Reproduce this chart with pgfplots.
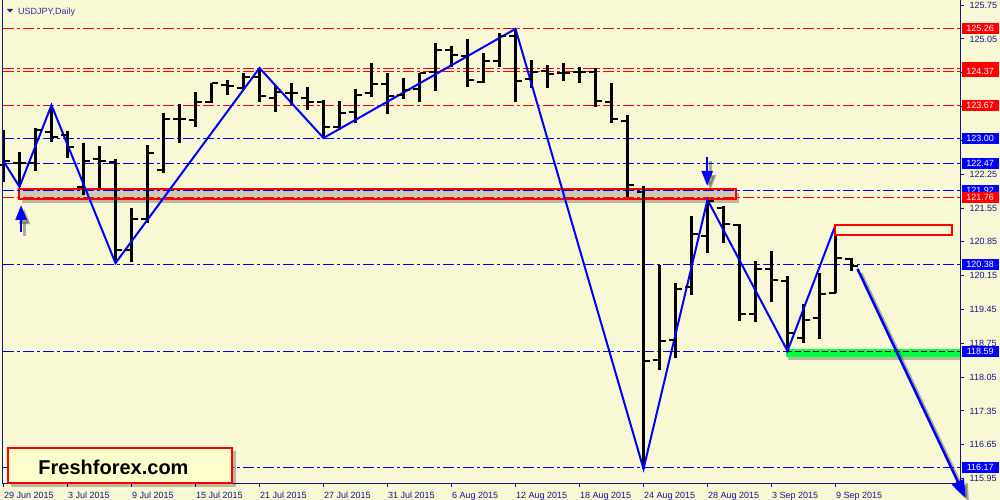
\documentclass[border=0pt]{standalone}
\usepackage{fontspec}
\setmainfont{Liberation Sans}
\usepackage{pgfplots}
\pgfplotsset{compat=1.18}
\usepackage{pgfplotstable}
\usetikzlibrary{arrows.meta}

\definecolor{bgc}{RGB}{248,248,212}
\definecolor{navy}{RGB}{20,20,140}
\definecolor{ttl}{RGB}{50,50,150}
\definecolor{lblue}{RGB}{0,0,255}
\definecolor{lred}{RGB}{255,0,0}
\definecolor{hl}{RGB}{204,204,178}
\definecolor{logo}{RGB}{255,255,204}
\definecolor{grn}{RGB}{0,255,64}

\pgfdeclareplotmark{otick}{\pgfpathmoveto{\pgfqpoint{-6.5bp}{0pt}}\pgfpathlineto{\pgfqpoint{0pt}{0pt}}\pgfusepathqstroke}
\pgfdeclareplotmark{ctick}{\pgfpathmoveto{\pgfqpoint{0pt}{0pt}}\pgfpathlineto{\pgfqpoint{6.5bp}{0pt}}\pgfusepathqstroke}

\tikzset{lvl/.style={line width=1bp, dash pattern=on 11bp off 3bp on 3bp off 3bp},
  plbl/.style={anchor=west, xshift=1.5bp, inner sep=0pt, minimum width=37bp, minimum height=11bp, text=white, font=\fontsize{9bp}{10bp}\selectfont}}

\pgfplotstableread{
i O H L C
0 122.44 123.17 122.09 122.52
1 122.48 122.71 121.99 122.48
2 122.48 123.21 122.32 123.17
3 123.12 123.68 122.92 123.02
4 123.06 123.15 122.59 122.81
5 121.99 122.90 121.82 122.52
6 122.57 122.83 121.97 122.52
7 122.50 122.57 120.41 120.68
8 120.68 121.55 120.43 121.32
9 121.32 122.86 121.24 122.69
10 122.34 123.52 122.28 123.39
11 123.39 123.70 122.90 123.39
12 123.37 123.95 123.23 123.75
13 123.75 124.14 123.72 124.14
14 124.10 124.20 123.89 124.08
15 124.04 124.35 123.99 124.26
16 124.26 124.45 123.75 123.87
17 123.83 124.10 123.54 123.95
18 123.93 124.14 123.68 123.93
19 123.83 124.06 123.58 123.75
20 123.75 123.79 123.00 123.23
21 123.23 123.77 123.17 123.52
22 123.54 124.01 123.31 123.89
23 123.93 124.55 123.85 124.12
24 124.12 124.35 123.50 123.87
25 123.89 124.24 123.81 123.99
26 124.01 124.35 123.75 124.35
27 124.37 124.97 123.97 124.82
28 124.82 124.91 124.47 124.72
29 124.70 125.05 124.06 124.20
30 124.16 124.76 124.14 124.59
31 124.59 125.17 124.47 125.11
32 125.11 125.26 123.75 124.18
33 124.22 124.62 124.04 124.37
34 124.39 124.51 124.04 124.33
35 124.35 124.55 124.18 124.35
36 124.37 124.47 124.14 124.37
37 124.37 124.45 123.64 123.77
38 123.75 124.14 123.31 123.39
39 123.35 123.48 121.78 122.03
40 121.88 122.01 116.15 118.38
41 118.40 120.37 118.20 118.80
42 118.82 120.00 118.45 119.87
43 119.92 121.39 119.75 121.01
44 120.97 121.72 120.62 121.70
45 121.55 121.59 120.83 121.22
46 121.20 121.22 119.21 119.36
47 119.36 120.45 119.19 120.29
48 120.29 120.66 119.60 120.06
49 120.04 120.14 118.59 118.96
50 118.86 119.56 118.76 119.23
51 119.27 120.21 118.84 119.77
52 119.79 121.20 119.79 120.52
53 120.50 120.52 120.25 120.35
}\bars

\begin{document}
\begin{tikzpicture}[x=1bp,y=1bp]
\fill[bgc] (0,0) rectangle (1000,500);
\begin{axis}[
  at={(3bp,17bp)}, anchor=south west,
  width=957bp, height=483bp, scale only axis,
  xmin=-0.03125, xmax=59.78125, ymin=115.8575, ymax=125.8575,
  clip=false,
  axis line style={draw=none},
  tick align=outside, major tick length=4bp,
  tick style={navy, line width=1bp},
  xtick pos=lower, ytick pos=upper, yticklabel pos=upper,
  xtick={0,4,...,52},
  xticklabels={29 Jun 2015,3 Jul 2015,9 Jul 2015,15 Jul 2015,21 Jul 2015,27 Jul 2015,31 Jul 2015,6 Aug 2015,12 Aug 2015,18 Aug 2015,24 Aug 2015,28 Aug 2015,3 Sep 2015,9 Sep 2015},
  ytick={125.75,125.05,124.35,123.65,122.95,122.25,121.55,120.85,120.15,119.45,118.75,118.05,117.35,116.65,115.95},
  yticklabels={125.75,125.05,{},{},{},122.25,121.55,120.85,120.15,119.45,118.75,118.05,117.35,116.65,115.95},
  ticklabel style={font=\fontsize{9bp}{10bp}\selectfont, text=navy, inner sep=0pt},
  xticklabel style={anchor=base west, yshift=-11.5bp, xshift=0.5bp},
  yticklabel style={anchor=west, xshift=5.5bp},
]
% highlight rectangle (behind)
\fill[black, opacity=0.25] (axis cs:1.15,121.66) rectangle (axis cs:45.95,121.86);
\draw[lred, line width=2bp, fill=hl] (axis cs:0.9375,121.74) rectangle (axis cs:45.75,121.94);

% level lines (levels as read from the pixel rows of the reference)
\addplot[draw=lred, lvl] coordinates {(-0.03125,125.2674) (59.78125,125.2674)};
\addplot[draw=lred, lvl] coordinates {(-0.03125,124.4393) (59.78125,124.4393)};
\addplot[draw=lred, lvl] coordinates {(-0.03125,124.3772) (59.78125,124.3772)};
\addplot[draw=lred, lvl] coordinates {(-0.03125,123.6732) (59.78125,123.6732)};
\addplot[draw=lred, lvl] coordinates {(-0.03125,121.7685) (59.78125,121.7685)};
\addplot[draw=lblue, lvl] coordinates {(-0.03125,122.9901) (59.78125,122.9901)};
\addplot[draw=lblue, lvl] coordinates {(-0.03125,122.4724) (59.78125,122.4724)};
\addplot[draw=lblue, lvl] coordinates {(-0.03125,121.9134) (59.78125,121.9134)};
\addplot[draw=lblue, lvl] coordinates {(-0.03125,120.3813) (59.78125,120.3813)};
\addplot[draw=lblue, lvl] coordinates {(-0.03125,118.5801) (59.78125,118.5801)};
\addplot[draw=lblue, lvl] coordinates {(-0.03125,116.1784) (59.78125,116.1784)};

% green support band
\fill[black, opacity=0.25] (axis cs:49.05,118.40) rectangle (axis cs:59.78125,118.56);
\fill[grn] (axis cs:48.875,118.47) rectangle (axis cs:59.78125,118.63);
\draw[black, line width=1bp, dash pattern=on 6bp off 3bp] (axis cs:48.875,118.5801) -- (axis cs:59.78125,118.5801);

% OHLC bars
\addplot[draw=none, mark=none,
  error bars/.cd, y dir=plus, y explicit, error mark=none,
  error bar style={line width=3bp, black, solid}]
  table[x=i, y=L, y error expr=\thisrow{H}-\thisrow{L}] {\bars};
\addplot[only marks, mark=otick, black, mark options={line width=2.5bp, solid}] table[x=i, y=O] {\bars};
\addplot[only marks, mark=ctick, black, mark options={line width=2.5bp, solid}] table[x=i, y=C] {\bars};

% zigzag
\addplot[lblue, line width=2bp, mark=none] coordinates {
 (0,122.52) (1,121.99) (3,123.68) (7,120.41) (16,124.45) (20,123.00)
 (32,125.26) (40,116.15) (44,121.72) (49,118.59) (52,121.20)};

% resistance box
\draw[lred, line width=2bp, fill=bgc] (axis cs:51.94,120.99) rectangle (axis cs:59.31,121.20);

% arrows
\draw[black, opacity=0.3, line width=3bp, -{Triangle[length=18bp,width=13bp]}] (axis cs:53.6,120.20) -- (axis cs:60.35,115.46);
\draw[lblue, line width=2.5bp, -{Triangle[length=18bp,width=13bp]}] (axis cs:53.375,120.29) -- (axis cs:60.125,115.547);
\draw[black, opacity=0.3, line width=2.5bp, -{Triangle[length=15bp,width=11bp]}] (axis cs:1.3,120.97) -- (axis cs:1.3,121.53);
\draw[lblue, line width=2.5bp, -{Triangle[length=15bp,width=11bp]}] (axis cs:1.1,121.054) -- (axis cs:1.1,121.613);
\draw[black, opacity=0.3, line width=2.5bp, -{Triangle[length=15bp,width=11bp]}] (axis cs:44.18,122.52) -- (axis cs:44.18,121.92);
\draw[lblue, line width=2.5bp, -{Triangle[length=15bp,width=11bp]}] (axis cs:43.98,122.607) -- (axis cs:43.98,122.007);

% price labels
\node[plbl, fill=lred] at (axis cs:59.78125,125.26) {125.26};
\node[plbl, fill=lred, yshift=1bp] at (axis cs:59.78125,124.43) {};
\node[plbl, fill=lred] at (axis cs:59.78125,124.37) {124.37};
\node[plbl, fill=lred] at (axis cs:59.78125,123.67) {123.67};
\node[plbl, fill=lblue] at (axis cs:59.78125,123.00) {123.00};
\node[plbl, fill=lblue] at (axis cs:59.78125,122.47) {122.47};
\node[plbl, fill=lblue] at (axis cs:59.78125,121.92) {121.92};
\node[plbl, fill=lred] at (axis cs:59.78125,121.76) {121.76};
\node[plbl, fill=lblue] at (axis cs:59.78125,120.38) {120.38};
\node[plbl, fill=lblue] at (axis cs:59.78125,118.59) {118.59};
\node[plbl, fill=lblue] at (axis cs:59.78125,116.17) {116.17};
\end{axis}
% frame
\draw[navy, line width=1bp] (2.5,500) -- (2.5,16.5) -- (960.5,16.5) -- (960.5,500);
% title
\fill[navy] (7,491) -- (13,491) -- (10,487.5) -- cycle;
\node[anchor=base west, inner sep=0pt, text=ttl, font=\fontsize{9bp}{10bp}\selectfont] at (18,485.5) {USDJPY,Daily};
% logo
\fill[black, opacity=0.25] (11,13) rectangle (236,49);
\draw[lred, line width=2bp, fill=logo] (8,17) rectangle (232,52);
\node[font=\fontsize{20bp}{22bp}\selectfont\bfseries, text=black] at (113.5,33) {Freshforex.com};
\pgfresetboundingbox
\useasboundingbox (0,0) rectangle (1000,500);
\end{tikzpicture}
\end{document}
